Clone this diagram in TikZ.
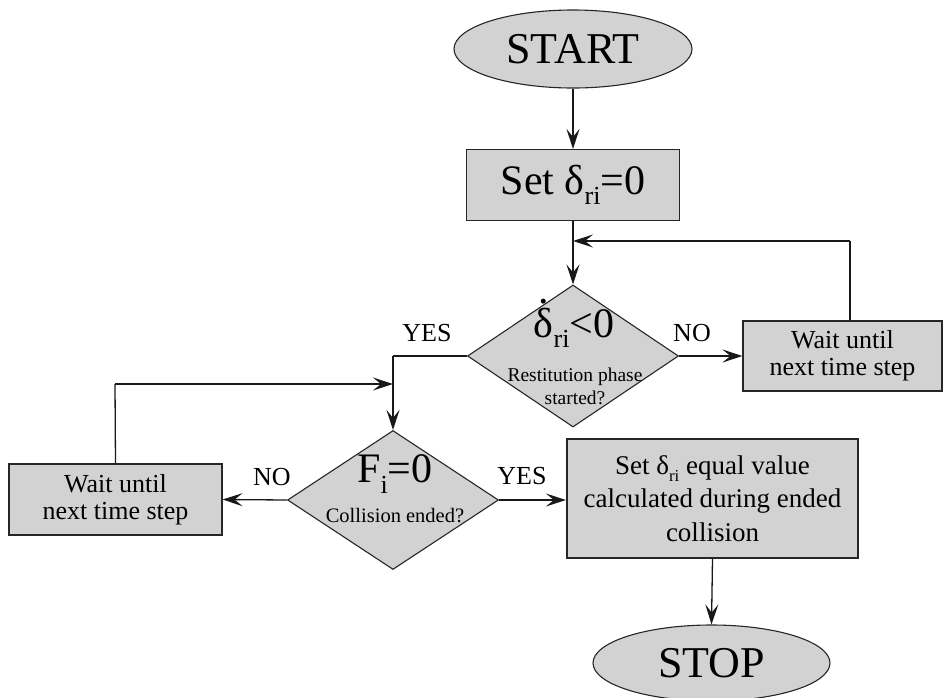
\documentclass[tikz,border=0pt]{standalone}
\usepackage{fontspec}
\setmainfont{Liberation Serif}
\usetikzlibrary{shapes.geometric,arrows.meta}
\newcommand\fsz[1]{\fontsize{#1}{#1}\selectfont}
\newcommand\sbx[1]{\raisebox{-0.25em}{\scalebox{0.62}{#1}}}
\newcommand\ddelta{\ooalign{δ\cr\hidewidth\raisebox{0.8em}{.}\hidewidth\cr}}
\tikzset{
  fl/.style={draw=black!85, fill=gray!35, line width=1.1pt},
  term/.style={fl, ellipse, inner sep=0pt},
  procbox/.style={fl, rectangle, inner sep=0pt, align=center},
  dec/.style={fl, diamond, inner sep=0pt},
  arr/.style={line width=1.3pt, draw=black!90, -{Stealth[length=20pt,width=13pt,inset=8pt]}},
  ln/.style={line width=1.3pt, draw=black!90},
  lbl/.style={font=\fsz{26}, inner sep=0pt},
}
\begin{document}
\begin{tikzpicture}[x=1pt,y=-1pt]
\useasboundingbox (0,0) rectangle (945,697);
% nodes
\node[term, minimum width=238pt, minimum height=78pt, font=\fsz{44}] (start) at (573,49) {START};
\node[procbox, minimum width=213pt, minimum height=71pt, font=\fsz{42}] (set) at (573,185) {Set δ\sbx{ri}=0};
\node[dec, minimum width=211pt, minimum height=142pt] (d1) at (573,356) {};
\node[inner sep=0pt, font=\fsz{42}] (d1a) at (574,328) {\ddelta\sbx{ri}<0};
\node[inner sep=0pt, align=center, font={\fontsize{19.5}{23}\selectfont}] (d1b) at (575,386) {Restitution phase\\started?};
\node[procbox, minimum width=199pt, minimum height=70pt, font={\fontsize{26}{27}\selectfont}] (wr) at (842.5,356) {Wait until\\next time step};
\node[dec, minimum width=211pt, minimum height=139pt] (d2) at (393,500) {};
\node[inner sep=0pt, font=\fsz{42}] (d2a) at (395,474) {F\sbx{i}=0};
\node[inner sep=0pt, font=\fsz{20.5}] (d2b) at (395,516) {Collision ended?};
\node[procbox, minimum width=213pt, minimum height=71pt, font={\fontsize{26}{27}\selectfont}] (wl) at (115.5,499.5) {Wait until\\next time step};
\node[procbox, line width=2.2pt, minimum width=291pt, minimum height=119pt, font={\fontsize{27}{33.5}\selectfont}] (setv) at (712.5,498.5) {Set δ\sbx{ri} equal value\\calculated during ended\\collision};
\node[term, minimum width=237pt, minimum height=76pt, font=\fsz{44}] (stop) at (711.5,663) {STOP};
% labels
\node[lbl] (yes1) at (427,333) {YES};
\node[lbl] (no1) at (692,333) {NO};
\node[lbl] (no2) at (272,477) {NO};
\node[lbl] (yes2) at (522,476) {YES};
% coordinates
\coordinate (c1) at (850,241);
\coordinate (c2) at (393,356);
\coordinate (c3) at (115,384);
\coordinate (c4) at (393,384);
% connectors
\draw[arr] (start.south) -- (set.north);
\draw[arr] (set.south) -- (d1.north);
\draw[ln] (wr.north -| c1) -- (c1);
\draw[arr] (c1) -- (c1 -| set.south);
\draw[arr] (d1.east) -- (wr.west);
\draw[ln] (d1.west) -- (c2);
\draw[arr] (c2) -- (d2.north);
\draw[ln] (wl.north) -- (c3);
\draw[arr] (c3) -- (c4);
\draw[arr] (d2.west) -- (wl.east);
\draw[arr] (d2.east) -- (d2.east -| setv.west);
\draw[arr] (setv.south) -- (stop.north);
\end{tikzpicture}
\end{document}
